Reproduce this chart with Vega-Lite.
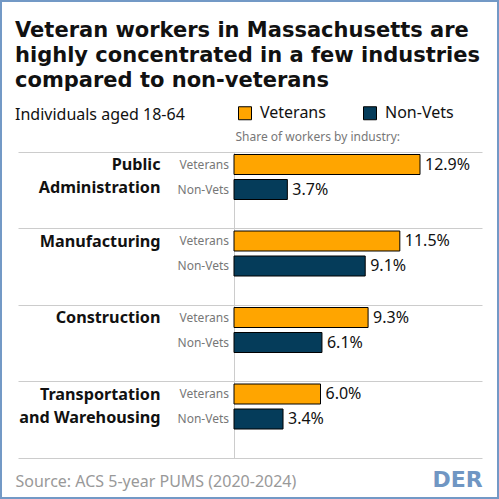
{
  "$schema": "https://vega.github.io/schema/vega-lite/v6.json",
  "width": 499,
  "height": 499,
  "autosize": {"type": "none"},
  "padding": 0,
  "background": "white",
  "config": {
    "view": {"stroke": "#7399c6", "strokeWidth": 4},
    "font": "Noto Sans"
  },
  "title": {
    "text": ["Veteran workers in Massachusetts are", "highly concentrated in a few industries", "compared to non-veterans"],
    "subtitle": "Individuals aged 18-64",
    "anchor": "start",
    "frame": "group",
    "dx": 15,
    "offset": -123,
    "font": "DejaVu Sans",
    "fontWeight": "bold",
    "fontSize": 21,
    "lineHeight": 25,
    "color": "#111",
    "subtitleFont": "Noto Sans",
    "subtitleFontSize": 16,
    "subtitleColor": "#111",
    "subtitlePadding": 16
  },
  "data": {
    "values": [
      {"industry": "Public Administration", "group": "Veterans", "share": 0.129},
      {"industry": "Public Administration", "group": "Non-Vets", "share": 0.037},
      {"industry": "Manufacturing", "group": "Veterans", "share": 0.115},
      {"industry": "Manufacturing", "group": "Non-Vets", "share": 0.091},
      {"industry": "Construction", "group": "Veterans", "share": 0.093},
      {"industry": "Construction", "group": "Non-Vets", "share": 0.061},
      {"industry": "Transportation and Warehousing", "group": "Veterans", "share": 0.060},
      {"industry": "Transportation and Warehousing", "group": "Non-Vets", "share": 0.034}
    ]
  },
  "encoding": {
    "y": {
      "field": "industry",
      "type": "nominal",
      "sort": null,
      "scale": {"range": [151.5, 457.5], "paddingInner": 0, "paddingOuter": 0}
    },
    "yOffset": {
      "field": "group",
      "type": "nominal",
      "scale": {"domain": ["Veterans", "Non-Vets"], "range": [0, 51], "paddingInner": 0.2, "paddingOuter": 0.12}
    }
  },
  "layer": [
    {
      "mark": {"type": "bar", "stroke": "black", "strokeWidth": 1},
      "encoding": {
        "x": {
          "field": "share",
          "type": "quantitative",
          "scale": {"domain": [0, 0.172], "range": [234, 482], "nice": false},
          "axis": {
            "orient": "top",
            "domain": false,
            "ticks": false,
            "labels": false,
            "grid": false,
            "title": "Share of workers by industry:",
            "titleX": 235,
            "titleY": 140,
            "titleAlign": "left",
            "titleBaseline": "alphabetic",
            "titleFont": "Noto Sans",
            "titleFontWeight": "normal",
            "titleFontSize": 12,
            "titleColor": "#777"
          }
        },
        "y": {
          "field": "industry",
          "type": "nominal",
          "sort": null,
          "axis": {
            "orient": "left",
            "offset": -482,
            "title": null,
            "domain": false,
            "grid": false,
            "tickBand": "extent",
            "tickSize": 464,
            "tickColor": "#cccccc",
            "tickWidth": 1,
            "labelPadding": -142,
            "labelFont": "Noto Sans",
            "labelFontWeight": "bold",
            "labelFontSize": 16.2,
            "labelColor": "#111",
            "labelAlign": "right",
            "labelBaseline": "top",
            "labelOffset": -33,
            "labelLineHeight": 23,
            "labelLimit": 0,
            "labelExpr": "datum.label == 'Public Administration' ? ['Public', 'Administration'] : datum.label == 'Transportation and Warehousing' ? ['Transportation', 'and Warehousing'] : datum.label"
          }
        },
        "color": {
          "field": "group",
          "type": "nominal",
          "scale": {"domain": ["Veterans", "Non-Vets"], "range": ["#ffa500", "#053c5a"]},
          "legend": {
            "orient": "none",
            "legendX": 237,
            "legendY": 105,
            "direction": "horizontal",
            "title": null,
            "symbolType": "square",
            "symbolSize": 169,
            "symbolStrokeColor": "black",
            "symbolStrokeWidth": 1,
            "symbolOpacity": 1,
            "labelFont": "Noto Sans",
            "labelFontSize": 16,
            "labelColor": "#111",
            "labelOffset": 7,
            "columnPadding": 35
          }
        }
      }
    },
    {
      "mark": {"type": "text", "align": "right", "baseline": "middle", "dx": -5, "fontSize": 12, "color": "#777"},
      "encoding": {
        "x": {"datum": 0, "type": "quantitative", "axis": null},
        "y": {
          "field": "industry",
          "type": "nominal",
          "sort": null,
          "axis": {
            "orient": "right",
            "offset": -265,
            "domain": true,
            "domainColor": "#cccccc",
            "domainWidth": 1,
            "ticks": false,
            "labels": false,
            "grid": false,
            "title": "DER",
            "titleAngle": 0,
            "titleX": 198,
            "titleY": 486,
            "titleAlign": "left",
            "titleBaseline": "alphabetic",
            "titleFont": "DejaVu Sans",
            "titleFontWeight": "bold",
            "titleFontSize": 22,
            "titleColor": "#7096c3"
          }
        },
        "text": {"field": "group"}
      }
    },
    {
      "mark": {"type": "text", "align": "left", "baseline": "middle", "dx": 5, "fontSize": 16, "color": "#111"},
      "encoding": {
        "x": {
          "field": "share",
          "type": "quantitative",
          "axis": {
            "orient": "bottom",
            "domain": false,
            "ticks": false,
            "labels": false,
            "grid": false,
            "title": "Source: ACS 5-year PUMS (2020-2024)",
            "titleX": 15,
            "titleY": -13,
            "titleAlign": "left",
            "titleBaseline": "alphabetic",
            "titleFont": "Noto Sans",
            "titleFontWeight": "normal",
            "titleFontSize": 16,
            "titleColor": "#999"
          }
        },
        "y": {"field": "industry", "type": "nominal", "sort": null, "axis": null},
        "text": {"field": "share", "format": ".1%"}
      }
    }
  ]
}
